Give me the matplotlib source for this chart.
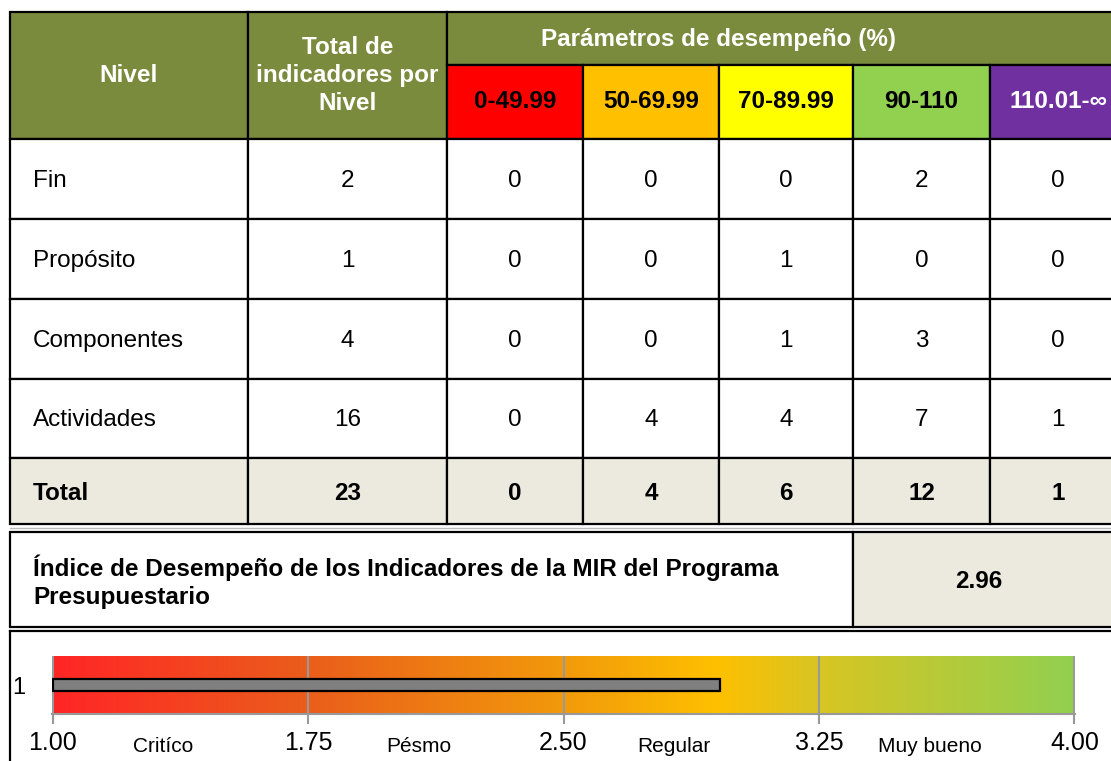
import matplotlib

matplotlib.use("Agg")
import matplotlib.pyplot as plt
from matplotlib.colors import LinearSegmentedColormap
from matplotlib.patches import Rectangle
from matplotlib.transforms import blended_transform_factory
import numpy as np

# ---- data -------------------------------------------------------------
levels = ["Fin", "Propósito", "Componentes", "Actividades"]
totals = [2, 1, 4, 16]
ranges = ["0-49.99", "50-69.99", "70-89.99", "90-110", "110.01-∞"]
counts = [
    [0, 0, 0, 2, 0],  # Fin
    [0, 0, 1, 0, 0],  # Propósito
    [0, 0, 1, 3, 0],  # Componentes
    [0, 4, 4, 7, 1],  # Actividades
]
index_value = 2.96
gauge_ticks = [1.00, 1.75, 2.50, 3.25, 4.00]
zone_names = ["Critíco", "Pésmo", "Regular", "Muy bueno"]

# ---- style ------------------------------------------------------------
HEADER_GREEN = "#7B8B3E"
BEIGE = "#ECE9DF"
range_colors = ["#FF0000", "#FFC000", "#FFFF00", "#92D050", "#7030A0"]
range_text = ["black", "black", "black", "black", "white"]
gradient_stops = [
    (1.00, "#FF2626"),
    (1.75, "#EA5E1B"),
    (2.50, "#F29A0B"),
    (2.95, "#FEC000"),
    (3.25, "#D8C523"),
    (4.00, "#92D050"),
]

plt.rcParams["font.family"] = ["Liberation Sans", "DejaVu Sans"]

W, H = 1111, 761
fig = plt.figure(figsize=(W / 100, H / 100), dpi=100)
ax = fig.add_axes([0, 0, 1, 1])
ax.set_xlim(0, W)
ax.set_ylim(H, 0)
ax.axis("off")

col_x = [10, 248, 447, 583, 719, 853, 990, 1126]
row_y = [139, 219, 299, 379, 458, 524]
top, split = 12, 65
fs = 17.5
lw = 1.6


def cell(x0, x1, y0, y1, color):
    ax.add_patch(Rectangle((x0, y0), x1 - x0, y1 - y0, facecolor=color,
                           edgecolor="black", linewidth=lw))


# header
cell(col_x[0], col_x[1], top, row_y[0], HEADER_GREEN)
cell(col_x[1], col_x[2], top, row_y[0], HEADER_GREEN)
cell(col_x[2], col_x[-1], top, split, HEADER_GREEN)
ax.text((col_x[0] + col_x[1]) / 2, (top + row_y[0]) / 2, "Nivel", color="white",
        fontsize=fs, fontweight="bold", ha="center", va="center")
ax.text((col_x[1] + col_x[2]) / 2, (top + row_y[0]) / 2, "Total de\nindicadores por\nNivel",
        color="white", fontsize=fs, fontweight="bold", ha="center", va="center",
        linespacing=1.25)
ax.text((col_x[2] + col_x[6]) / 2, (top + split) / 2 + 1, "Parámetros de desempeño (%)",
        color="white", fontsize=fs, fontweight="bold", ha="center", va="center")
for i, (label, fc, tc) in enumerate(zip(ranges, range_colors, range_text)):
    x0, x1 = col_x[2 + i], col_x[3 + i]
    cell(x0, x1, split, row_y[0], fc)
    ax.text((x0 + x1) / 2, (split + row_y[0]) / 2, label, color=tc,
            fontsize=fs, fontweight="bold", ha="center", va="center")

# body rows + total row
total_row = [sum(totals)] + [sum(c[j] for c in counts) for j in range(len(ranges))]
body = [[t] + c for t, c in zip(totals, counts)]
names = levels + ["Total"]
rows = body + [total_row]
for r, (name, vals) in enumerate(zip(names, rows)):
    y0, y1 = row_y[r], row_y[r + 1]
    is_total = name == "Total"
    bg = BEIGE if is_total else "white"
    weight = "bold" if is_total else "normal"
    for c in range(len(col_x) - 1):
        cell(col_x[c], col_x[c + 1], y0, y1, bg)
    ym = (y0 + y1) / 2 + 2
    ax.text(col_x[0] + 23, ym, name, fontsize=fs, fontweight=weight,
            ha="left", va="center")
    for c, v in enumerate(vals):
        ax.text((col_x[c + 1] + col_x[c + 2]) / 2, ym, str(v), fontsize=fs,
                fontweight=weight, ha="center", va="center")

ax.plot([col_x[0], W], [528, 528], color="#BBBBBB", linewidth=1)

# index row
idx_top, idx_bot, idx_div = 532, 627, 853
cell(col_x[0], idx_div, idx_top, idx_bot, "white")
cell(idx_div, col_x[-1], idx_top, idx_bot, BEIGE)
ax.text(col_x[0] + 23, (idx_top + idx_bot) / 2 + 2,
        "Índice de Desempeño de los Indicadores de la MIR del Programa\nPresupuestario",
        fontsize=fs, fontweight="bold", ha="left", va="center", linespacing=1.3)
ax.text((idx_div + 1111) / 2 - 3, (idx_top + idx_bot) / 2 + 2, f"{index_value:.2f}",
        fontsize=fs, fontweight="bold", ha="center", va="center")
ax.plot([col_x[0], W], [631, 631], color="black", linewidth=lw)
ax.plot([col_x[0], col_x[0]], [631, H], color="black", linewidth=lw)

# ---- gauge ------------------------------------------------------------
gx0, gx1, gy0, gy1 = 52, 1075, 656, 714
gax = fig.add_axes([gx0 / W, (H - gy1) / H, (gx1 - gx0) / W, (gy1 - gy0) / H])
lo, hi = gauge_ticks[0], gauge_ticks[-1]
cmap = LinearSegmentedColormap.from_list(
    "gauge", [((v - lo) / (hi - lo), c) for v, c in gradient_stops])
grad = np.linspace(0, 1, 512).reshape(1, -1)
gax.imshow(grad, cmap=cmap, aspect="auto", extent=[lo, hi, 0.5, 1.5], zorder=0)
for t in gauge_ticks:
    gax.axvline(t, color="#999999", linewidth=1.5, zorder=1)
gax.barh([1], [index_value - lo], left=lo, height=0.2, color="#808080",
         edgecolor="black", linewidth=1.6, zorder=2)
gax.set_xlim(lo - 0.002, hi + 0.002)
gax.set_ylim(0.5, 1.5)
gax.set_xticks(gauge_ticks)
gax.set_xticklabels([f"{t:.2f}" for t in gauge_ticks], fontsize=18)
gax.tick_params(axis="x", colors="#999999", length=7, width=1.5, pad=5,
                labelcolor="black")
gax.set_yticks([1])
gax.set_yticklabels(["1"], fontsize=17)
gax.tick_params(axis="y", length=0, pad=19)
for side in ["top", "right", "left"]:
    gax.spines[side].set_visible(False)
gax.spines["bottom"].set_color("#999999")
gax.spines["bottom"].set_linewidth(1.5)

trans = blended_transform_factory(gax.transData, gax.transAxes)
for name, a, b in zip(zone_names, gauge_ticks[:-1], gauge_ticks[1:]):
    gax.text((a + b) / 2 - 0.05, -0.56, name, transform=trans, fontsize=15,
             family=["Liberation Sans Narrow", "Liberation Sans"],
             ha="center", va="center")

fig.savefig("out.png", dpi=100)
